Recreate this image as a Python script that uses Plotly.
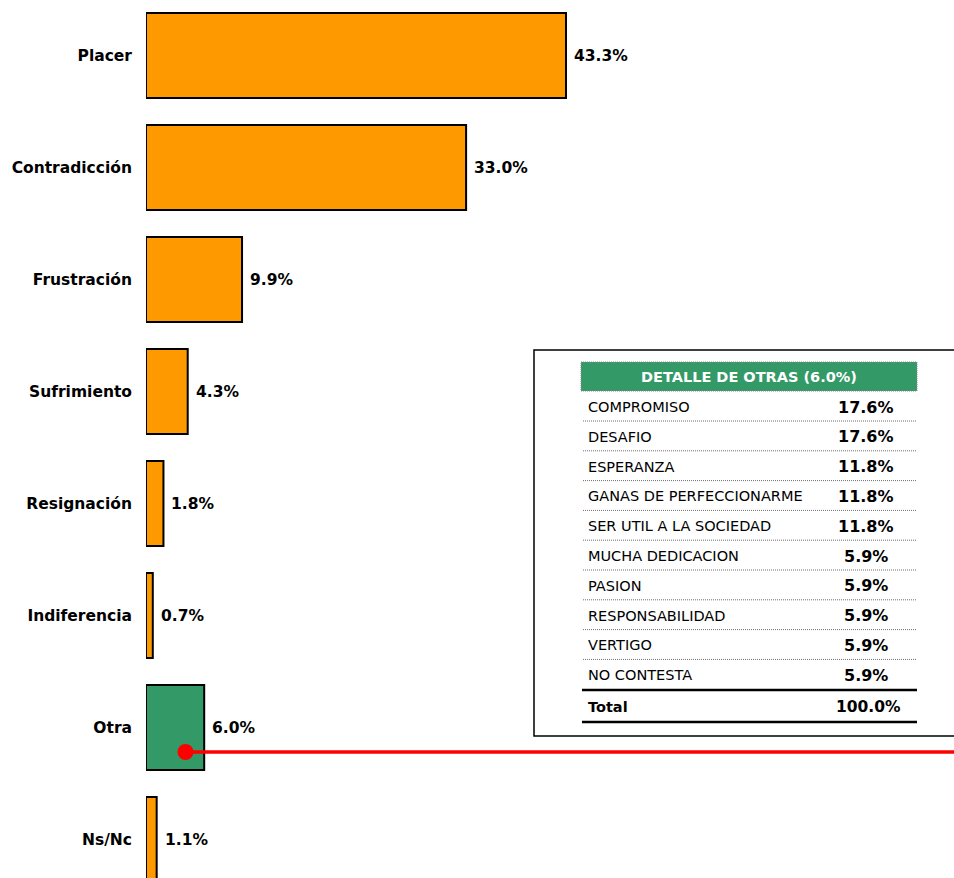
import plotly.graph_objects as go

# Bar data
categories = ["Placer", "Contradicción", "Frustración", "Sufrimiento",
              "Resignación", "Indiferencia", "Otra", "Ns/Nc"]
values = [43.3, 33.0, 9.9, 4.3, 1.8, 0.7, 6.0, 1.1]
highlight = "Otra"

# Detail table data
detail_title = "DETALLE DE OTRAS (6.0%)"
detail_items = ["COMPROMISO", "DESAFIO", "ESPERANZA", "GANAS DE PERFECCIONARME",
                "SER UTIL A LA SOCIEDAD", "MUCHA DEDICACION", "PASION",
                "RESPONSABILIDAD", "VERTIGO", "NO CONTESTA"]
detail_values = [17.6, 17.6, 11.8, 11.8, 11.8, 5.9, 5.9, 5.9, 5.9, 5.9]
detail_total = 100.0

W, H = 954, 878
L = 146
ORANGE = "#FF9900"
GREEN = "#339966"
FONT = "DejaVu Sans, Verdana, sans-serif"


def px(x):
    return (x - L) / (W - L)


def py(y):
    return 1 - y / H


def note(x, y, text, size, anchor="center", color="black"):
    return dict(x=px(x), y=py(y), xref="paper", yref="paper", text=text,
                showarrow=False, xanchor=anchor, yanchor="middle",
                font=dict(size=size, color=color, family=FONT))


colors = [GREEN if c == highlight else ORANGE for c in categories]

fig = go.Figure()
fig.add_trace(go.Bar(
    x=values,
    y=categories,
    orientation="h",
    marker=dict(color=colors, line=dict(color="black", width=2)),
    width=0.76,
    hoverinfo="x+y",
))

annotations = []
for c, v in zip(categories, values):
    annotations.append(dict(
        x=v, y=c, xref="x", yref="y", text=f"<b>{v:.1f}%</b>",
        showarrow=False, xanchor="left", yanchor="middle", xshift=6,
        font=dict(size=15.5, color="black", family=FONT),
    ))

shapes = []

# Table box
shapes.append(dict(type="rect", xref="paper", yref="paper",
                   x0=px(534), x1=px(962), y0=py(736), y1=py(350),
                   line=dict(color="black", width=1.5), fillcolor="white"))
# Header
shapes.append(dict(type="rect", xref="paper", yref="paper",
                   x0=px(581), x1=px(917), y0=py(391), y1=py(362),
                   line=dict(color="#8a8a8a", width=1, dash="1px,1px"),
                   fillcolor=GREEN))
annotations.append(note(749, 377, f"<b>{detail_title}</b>", 14.5, color="white"))

row_h = 29.8
row0 = 407
for i, (name, val) in enumerate(zip(detail_items, detail_values)):
    yc = row0 + i * row_h
    annotations.append(note(586, yc, name, 14.5, anchor="left"))
    annotations.append(note(866, yc, f"<b>{val:.1f}%</b>", 16))
    if i < len(detail_items) - 1:
        ys = yc + 14
        shapes.append(dict(type="line", xref="paper", yref="paper",
                           x0=px(583), x1=px(917), y0=py(ys), y1=py(ys),
                           line=dict(color="#6f6f6f", width=1, dash="1px,1px")))

# Total row
for ys in (690, 722):
    shapes.append(dict(type="line", xref="paper", yref="paper",
                       x0=px(582), x1=px(917), y0=py(ys), y1=py(ys),
                       line=dict(color="black", width=2.5)))
annotations.append(note(586, 707, "<b>Total</b>", 14.5, anchor="left"))
annotations.append(note(868, 707, f"<b>{detail_total:.1f}%</b>", 15.5))

# Red connector from the "Otra" bar
shapes.append(dict(type="line", xref="paper", yref="paper",
                   x0=px(185), x1=px(960), y0=py(752), y1=py(752),
                   line=dict(color="#FF0000", width=3.5)))
shapes.append(dict(type="circle", xref="paper", yref="paper",
                   x0=px(177.5), x1=px(193.5), y0=py(760), y1=py(744),
                   line=dict(color="#FF0000", width=0), fillcolor="#FF0000"))

# 112 px per category, first bar centre at 55.5 px
step = 112
r0 = -55.5 / step
r1 = r0 + H / step

fig.update_layout(
    width=W, height=H,
    margin=dict(l=L, r=0, t=0, b=0),
    plot_bgcolor="white", paper_bgcolor="white",
    showlegend=False,
    font=dict(family=FONT, color="black"),
    xaxis=dict(range=[0, (W - L) / 9.70], visible=False, fixedrange=True),
    yaxis=dict(type="category", categoryorder="array", categoryarray=categories,
               range=[r1, r0], showgrid=False, showline=False, ticks="",
               ticklabelstandoff=13,
               tickfont=dict(size=15.5, color="black", family=FONT),
               tickvals=categories, ticktext=[f"<b>{c}</b>" for c in categories]),
    shapes=shapes,
    annotations=annotations,
)

fig.write_html("out.html", config={"displayModeBar": False},
               post_script="document.body.style.margin='0';")
